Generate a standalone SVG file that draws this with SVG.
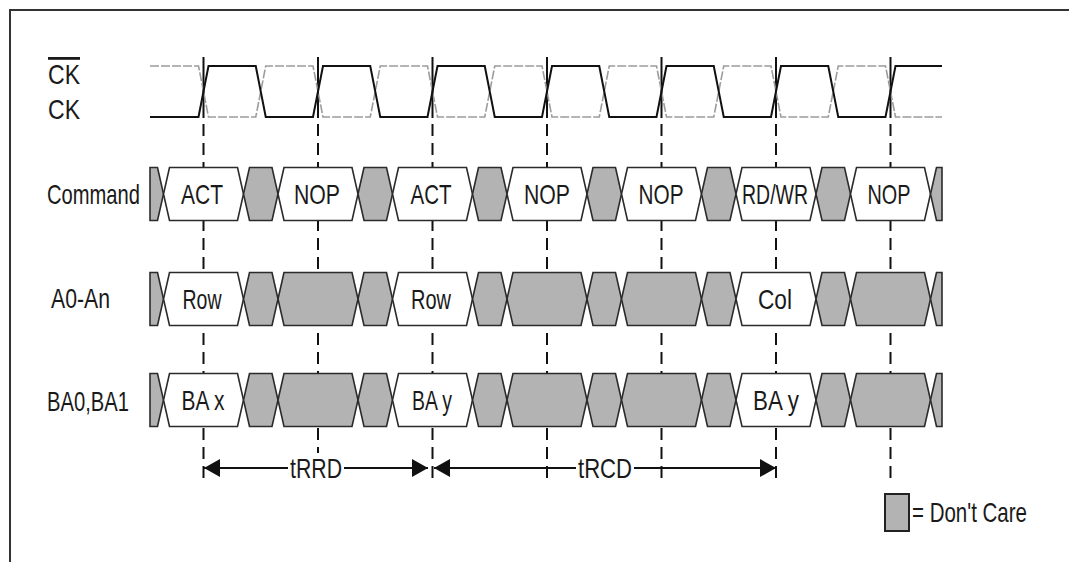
<svg xmlns="http://www.w3.org/2000/svg" xmlns:xlink="http://www.w3.org/1999/xlink" width="1069" height="562" viewBox="0 0 1069 562">
<style>
text{font-family:"Liberation Sans",Arial,sans-serif;fill:#1a1a1a;font-size:28px}
.lbl{text-anchor:start}
.c{text-anchor:middle}
.bus use{stroke:#2b2b2b;stroke-width:1.6;stroke-linejoin:miter}
.wh{fill:#fff}
.gr{fill:#b3b3b3}
.frame{stroke:#333;stroke-width:2;fill:none}
.ck{fill:none;stroke:#111;stroke-width:2}
.ckn{fill:none;stroke:#9c9c9c;stroke-width:1.6;stroke-dasharray:9 2}
.mk{stroke:#111;stroke-width:2}
.dash{stroke:#111;stroke-width:2;stroke-dasharray:12 7}
.arrow{stroke:#111;stroke-width:2;fill:none;marker-start:url(#ah);marker-end:url(#ah)}
.bg{fill:#fff}
</style>
<defs>
<polygon id="w" points="0,26.5 6,0 74,0 80,26.5 74,53 6,53"/>
<polygon id="n" points="0,26.5 6,0 28.5,0 34.5,26.5 28.5,53 6,53"/>
<polygon id="ps" points="0,0 7.5,0 13.5,26.5 7.5,53 0,53"/>
<polygon id="pe" points="11.5,0 6,0 0,26.5 6,53 11.5,53"/>
<marker id="ah" markerUnits="userSpaceOnUse" markerWidth="17" markerHeight="20" refX="16" refY="10" orient="auto-start-reverse">
<path d="M0,1 L16,10 L0,19 Z" fill="#111"/>
</marker>
</defs>
<rect width="1069" height="562" fill="#fff"/>
<path class="frame" d="M9,10 H1069 M10,10 V562"/>

<g id="connectors">
<g id="edge-markers">
<path class="mk" d="M203.5,57 V118 M318,57 V118 M432.5,57 V118 M547,57 V118 M661.5,57 V118 M776,57 V118 M890.5,57 V118"/>
<path class="dash" d="M203.5,124 V480 M318,124 V480 M432.5,124 V480 M547,124 V482 M661.5,124 V482 M776,124 V482 M890.5,124 V484"/>
</g>
<g id="tRRD">
<line class="arrow" x1="204" y1="468" x2="428" y2="468"/>
<rect class="bg" x="288" y="453" width="56" height="32"/>
<text class="c" x="316" y="478" textLength="52" lengthAdjust="spacingAndGlyphs">tRRD</text>
</g>
<g id="tRCD">
<line class="arrow" x1="434" y1="468" x2="776" y2="468"/>
<rect class="bg" x="576" y="453" width="58" height="32"/>
<text class="c" x="605" y="478" textLength="54" lengthAdjust="spacingAndGlyphs">tRCD</text>
</g>
</g>

<g id="clock">
<text class="lbl" x="48" y="84" font-size="26" textLength="32" lengthAdjust="spacingAndGlyphs" text-decoration="overline">CK</text>
<text class="lbl" x="48" y="119" font-size="26" textLength="32" lengthAdjust="spacingAndGlyphs">CK</text>
<path class="ckn" d="M150,66 H198.5 L208.5,117 H255.75 L265.75,66 H313 L323,117 H370.25 L380.25,66 H427.5 L437.5,117 H484.75 L494.75,66 H542 L552,117 H599.25 L609.25,66 H656.5 L666.5,117 H713.75 L723.75,66 H771 L781,117 H828.25 L838.25,66 H885.5 L895.5,117 H942"/>
<path class="ck" d="M150,117 H198.5 L208.5,66 H255.75 L265.75,117 H313 L323,66 H370.25 L380.25,117 H427.5 L437.5,66 H484.75 L494.75,117 H542 L552,66 H599.25 L609.25,117 H656.5 L666.5,66 H713.75 L723.75,117 H771 L781,66 H828.25 L838.25,117 H885.5 L895.5,66 H942"/>
</g>

<g id="command" class="bus">
<text class="lbl" x="47" y="204" textLength="93" lengthAdjust="spacingAndGlyphs">Command</text>
<use href="#ps" x="150" y="167.5" class="gr"/>
<g id="cmd-act1"><use href="#w" x="163.5" y="167.5" class="wh"/><text class="c" x="202" y="204" textLength="42" lengthAdjust="spacingAndGlyphs">ACT</text></g>
<use href="#n" x="243.5" y="167.5" class="gr"/>
<g id="cmd-nop1"><use href="#w" x="278" y="167.5" class="wh"/><text class="c" x="317" y="204" textLength="46" lengthAdjust="spacingAndGlyphs">NOP</text></g>
<use href="#n" x="358" y="167.5" class="gr"/>
<g id="cmd-act2"><use href="#w" x="392.5" y="167.5" class="wh"/><text class="c" x="431" y="204" textLength="41" lengthAdjust="spacingAndGlyphs">ACT</text></g>
<use href="#n" x="472.5" y="167.5" class="gr"/>
<g id="cmd-nop2"><use href="#w" x="507" y="167.5" class="wh"/><text class="c" x="547" y="204" textLength="46" lengthAdjust="spacingAndGlyphs">NOP</text></g>
<use href="#n" x="587" y="167.5" class="gr"/>
<g id="cmd-nop3"><use href="#w" x="621.5" y="167.5" class="wh"/><text class="c" x="661" y="204" textLength="45" lengthAdjust="spacingAndGlyphs">NOP</text></g>
<use href="#n" x="701.5" y="167.5" class="gr"/>
<g id="cmd-rdwr"><use href="#w" x="736" y="167.5" class="wh"/><text class="c" x="775" y="204" textLength="66" lengthAdjust="spacingAndGlyphs">RD/WR</text></g>
<use href="#n" x="816" y="167.5" class="gr"/>
<g id="cmd-nop4"><use href="#w" x="850.5" y="167.5" class="wh"/><text class="c" x="889" y="204" textLength="43" lengthAdjust="spacingAndGlyphs">NOP</text></g>
<use href="#pe" x="930.5" y="167.5" class="gr"/>
</g>

<g id="address" class="bus">
<text class="lbl" x="51" y="308" textLength="59" lengthAdjust="spacingAndGlyphs">A0-An</text>
<use href="#ps" x="150" y="272.5" class="gr"/>
<g id="addr-row1"><use href="#w" x="163.5" y="272.5" class="wh"/><text class="c" x="202" y="309" textLength="39" lengthAdjust="spacingAndGlyphs">Row</text></g>
<use href="#n" x="243.5" y="272.5" class="gr"/>
<use href="#w" x="278" y="272.5" class="gr"/>
<use href="#n" x="358" y="272.5" class="gr"/>
<g id="addr-row2"><use href="#w" x="392.5" y="272.5" class="wh"/><text class="c" x="431" y="309" textLength="40" lengthAdjust="spacingAndGlyphs">Row</text></g>
<use href="#n" x="472.5" y="272.5" class="gr"/>
<use href="#w" x="507" y="272.5" class="gr"/>
<use href="#n" x="587" y="272.5" class="gr"/>
<use href="#w" x="621.5" y="272.5" class="gr"/>
<use href="#n" x="701.5" y="272.5" class="gr"/>
<g id="addr-col"><use href="#w" x="736" y="272.5" class="wh"/><text class="c" x="775" y="309" textLength="34" lengthAdjust="spacingAndGlyphs">Col</text></g>
<use href="#n" x="816" y="272.5" class="gr"/>
<use href="#w" x="850.5" y="272.5" class="gr"/>
<use href="#pe" x="930.5" y="272.5" class="gr"/>
</g>

<g id="bank" class="bus">
<text class="lbl" x="47" y="411" textLength="82" lengthAdjust="spacingAndGlyphs">BA0,BA1</text>
<use href="#ps" x="150" y="373.5" class="gr"/>
<g id="ba-x"><use href="#w" x="163.5" y="373.5" class="wh"/><text class="c" x="203" y="410" textLength="43" lengthAdjust="spacingAndGlyphs">BA x</text></g>
<use href="#n" x="243.5" y="373.5" class="gr"/>
<use href="#w" x="278" y="373.5" class="gr"/>
<use href="#n" x="358" y="373.5" class="gr"/>
<g id="ba-y1"><use href="#w" x="392.5" y="373.5" class="wh"/><text class="c" x="432" y="410" textLength="40" lengthAdjust="spacingAndGlyphs">BA y</text></g>
<use href="#n" x="472.5" y="373.5" class="gr"/>
<use href="#w" x="507" y="373.5" class="gr"/>
<use href="#n" x="587" y="373.5" class="gr"/>
<use href="#w" x="621.5" y="373.5" class="gr"/>
<use href="#n" x="701.5" y="373.5" class="gr"/>
<g id="ba-y2"><use href="#w" x="736" y="373.5" class="wh"/><text class="c" x="776" y="410" textLength="46" lengthAdjust="spacingAndGlyphs">BA y</text></g>
<use href="#n" x="816" y="373.5" class="gr"/>
<use href="#w" x="850.5" y="373.5" class="gr"/>
<use href="#pe" x="930.5" y="373.5" class="gr"/>
</g>

<g id="legend">
<rect x="885" y="494" width="24" height="37" fill="#b3b3b3" stroke="#222" stroke-width="2"/>
<text class="lbl" x="912" y="522" textLength="115" lengthAdjust="spacingAndGlyphs">= Don't Care</text>
</g>
</svg>
